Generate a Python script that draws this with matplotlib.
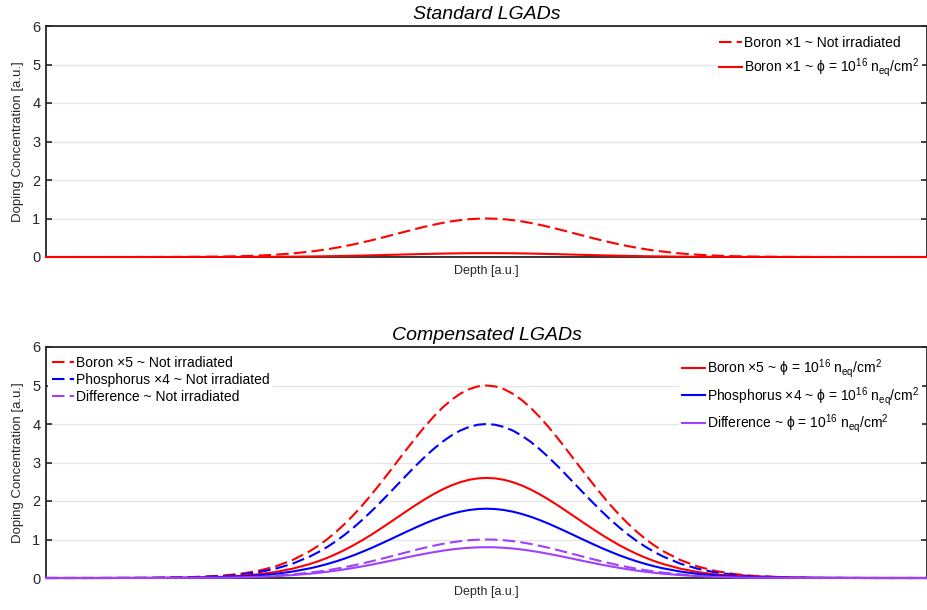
import matplotlib
matplotlib.use("Agg")
import matplotlib.pyplot as plt

plt.rcParams['font.family'] = ['Liberation Sans', 'DejaVu Sans']
plt.rcParams['mathtext.fontset'] = 'custom'
plt.rcParams['mathtext.rm'] = 'Liberation Sans'
plt.rcParams['mathtext.it'] = 'Liberation Sans:italic'
plt.rcParams['mathtext.bf'] = 'Liberation Sans:bold'

# ---------------- data ----------------
depth = [0, 6, 12, 16, 20, 22, 24, 26, 28, 30, 31, 32, 33, 34, 35, 36, 37, 38, 39, 40,
         41, 42, 43, 44, 45, 46, 47, 48, 49, 50, 51, 52, 53, 54, 55, 56, 57, 58, 59, 60,
         61, 62, 63, 64, 65, 66, 67, 68, 69, 70, 72, 74, 76, 78, 80, 84, 88, 94, 100]

# Standard LGADs
std_boron_noirr = [0, 0, 0.001, 0.004, 0.012, 0.021, 0.036, 0.059, 0.093, 0.141, 0.170, 0.204,
                   0.243, 0.285, 0.332, 0.383, 0.437, 0.494, 0.553, 0.613, 0.672, 0.731, 0.787,
                   0.838, 0.885, 0.925, 0.957, 0.981, 0.995, 1.000, 0.995, 0.981, 0.957, 0.925,
                   0.885, 0.838, 0.787, 0.731, 0.672, 0.613, 0.553, 0.494, 0.437, 0.383, 0.332,
                   0.285, 0.243, 0.204, 0.170, 0.141, 0.093, 0.059, 0.036, 0.021, 0.012, 0.004,
                   0.001, 0, 0]
std_boron_irr = [0, 0, 0, 0.0004, 0.0012, 0.0021, 0.0036, 0.0059, 0.0093, 0.0141, 0.0170,
                 0.0204, 0.0243, 0.0285, 0.0332, 0.0383, 0.0437, 0.0494, 0.0553, 0.0613, 0.0672,
                 0.0731, 0.0787, 0.0838, 0.0885, 0.0925, 0.0957, 0.0981, 0.0995, 0.1000, 0.0995,
                 0.0981, 0.0957, 0.0925, 0.0885, 0.0838, 0.0787, 0.0731, 0.0672, 0.0613, 0.0553,
                 0.0494, 0.0437, 0.0383, 0.0332, 0.0285, 0.0243, 0.0204, 0.0170, 0.0141, 0.0093,
                 0.0059, 0.0036, 0.0021, 0.0012, 0.0004, 0, 0, 0]

# Compensated LGADs
cmp_boron_noirr = [0, 0.0005, 0.004, 0.018, 0.060, 0.107, 0.182, 0.297, 0.467, 0.704, 0.852,
                   1.022, 1.213, 1.426, 1.660, 1.913, 2.184, 2.469, 2.763, 3.063, 3.362, 3.654,
                   3.933, 4.191, 4.424, 4.623, 4.785, 4.903, 4.976, 5.000, 4.976, 4.903, 4.785,
                   4.623, 4.424, 4.191, 3.933, 3.654, 3.362, 3.063, 2.763, 2.469, 2.184, 1.913,
                   1.660, 1.426, 1.213, 1.022, 0.852, 0.704, 0.467, 0.297, 0.182, 0.107, 0.060,
                   0.018, 0.004, 0.0005, 0]
cmp_phos_noirr = [0, 0.0004, 0.003, 0.014, 0.048, 0.086, 0.146, 0.238, 0.373, 0.563, 0.682,
                  0.817, 0.970, 1.140, 1.328, 1.530, 1.747, 1.975, 2.210, 2.450, 2.689, 2.923,
                  3.146, 3.353, 3.539, 3.698, 3.828, 3.922, 3.980, 4.000, 3.980, 3.922, 3.828,
                  3.698, 3.539, 3.353, 3.146, 2.923, 2.689, 2.450, 2.210, 1.975, 1.747, 1.530,
                  1.328, 1.140, 0.970, 0.817, 0.682, 0.563, 0.373, 0.238, 0.146, 0.086, 0.048,
                  0.014, 0.003, 0.0004, 0]
cmp_diff_noirr = [0, 0, 0.001, 0.004, 0.012, 0.021, 0.036, 0.059, 0.093, 0.141, 0.170, 0.204,
                  0.243, 0.285, 0.332, 0.383, 0.437, 0.494, 0.553, 0.613, 0.672, 0.731, 0.787,
                  0.838, 0.885, 0.925, 0.957, 0.981, 0.995, 1.000, 0.995, 0.981, 0.957, 0.925,
                  0.885, 0.838, 0.787, 0.731, 0.672, 0.613, 0.553, 0.494, 0.437, 0.383, 0.332,
                  0.285, 0.243, 0.204, 0.170, 0.141, 0.093, 0.059, 0.036, 0.021, 0.012, 0.004,
                  0.001, 0, 0]
cmp_boron_irr = [0, 0, 0.002, 0.009, 0.031, 0.056, 0.095, 0.154, 0.243, 0.366, 0.443, 0.531,
                 0.631, 0.741, 0.863, 0.995, 1.135, 1.284, 1.437, 1.593, 1.748, 1.900, 2.045,
                 2.179, 2.300, 2.404, 2.488, 2.550, 2.587, 2.600, 2.587, 2.550, 2.488, 2.404,
                 2.300, 2.179, 2.045, 1.900, 1.748, 1.593, 1.437, 1.284, 1.135, 0.995, 0.863,
                 0.741, 0.631, 0.531, 0.443, 0.366, 0.243, 0.154, 0.095, 0.056, 0.031, 0.009,
                 0.002, 0, 0]
cmp_phos_irr = [0, 0, 0.002, 0.006, 0.022, 0.039, 0.066, 0.107, 0.168, 0.253, 0.307, 0.368,
                0.437, 0.513, 0.597, 0.689, 0.786, 0.889, 0.995, 1.103, 1.210, 1.315, 1.416,
                1.509, 1.592, 1.664, 1.722, 1.765, 1.791, 1.800, 1.791, 1.765, 1.722, 1.664,
                1.592, 1.509, 1.416, 1.315, 1.210, 1.103, 0.995, 0.889, 0.786, 0.689, 0.597,
                0.513, 0.437, 0.368, 0.307, 0.253, 0.168, 0.107, 0.066, 0.039, 0.022, 0.006,
                0.002, 0, 0]
cmp_diff_irr = [0, 0, 0.001, 0.003, 0.010, 0.017, 0.029, 0.048, 0.075, 0.113, 0.136, 0.163,
                0.194, 0.228, 0.266, 0.306, 0.349, 0.395, 0.442, 0.490, 0.538, 0.585, 0.629,
                0.671, 0.708, 0.740, 0.766, 0.784, 0.796, 0.800, 0.796, 0.784, 0.766, 0.740,
                0.708, 0.671, 0.629, 0.585, 0.538, 0.490, 0.442, 0.395, 0.349, 0.306, 0.266,
                0.228, 0.194, 0.163, 0.136, 0.113, 0.075, 0.048, 0.029, 0.017, 0.010, 0.003,
                0.001, 0, 0]

yticks = [0, 1, 2, 3, 4, 5, 6]
titles = ["Standard LGADs", "Compensated LGADs"]
xlabel = "Depth [a.u.]"
ylabel = "Doping Concentration [a.u.]"
irr = "ϕ = 10$^{16}$ n$_{\\mathrm{eq}}$/cm$^{2}$"

RED = '#ff0000'
BLUE = '#0000ff'
PURPLE = '#a040ff'
TXT = '#262626'

fig = plt.figure(figsize=(9.28, 6.10), dpi=100)
ax1 = fig.add_axes([46 / 928, 1 - 257 / 610, 881 / 928, 231 / 610])
ax2 = fig.add_axes([46 / 928, 1 - 578 / 610, 881 / 928, 231 / 610])

DASH = (6, 2.5)
LW = 1.5
LFS = 10


def style(ax, title):
    ax.set_xlim(depth[0], depth[-1])
    ax.set_ylim(0, 6)
    ax.set_yticks(yticks)
    ax.set_xticks([])
    ax.yaxis.grid(True, color='#e5e5e5', lw=0.9)
    ax.set_axisbelow(True)
    ax.tick_params(axis='y', direction='in', length=4, width=1.2, colors=TXT,
                   labelsize=10.5, right=True, left=True, pad=4)
    for sp in ax.spines.values():
        sp.set_color(TXT)
        sp.set_linewidth(1.3)
        sp.set_zorder(1.5)
    ax.set_title(title, style='italic', fontsize=14, color='black', pad=5)
    ax.set_xlabel(xlabel, fontsize=9, color=TXT, labelpad=6)
    ax.set_ylabel(ylabel, fontsize=9.5, color=TXT, labelpad=6)


style(ax1, titles[0])
style(ax2, titles[1])


def make_legend(ax, handles, loc, anchor, spacing):
    lg = ax.legend(handles=handles, loc=loc, bbox_to_anchor=anchor,
                   fontsize=LFS, frameon=True, facecolor='white', edgecolor='none',
                   framealpha=1, handlelength=1.6, handletextpad=0.15,
                   labelspacing=spacing, borderaxespad=0.15, borderpad=0.25)
    lg.set_zorder(5)
    for t in lg.get_texts():
        t.set_color('black')
    return lg


# Top panel
l1, = ax1.plot(depth, std_boron_noirr, color=RED, lw=LW, ls='--', dashes=DASH,
               clip_on=False, zorder=3, label="Boron ×1 ~ Not irradiated")
l2, = ax1.plot(depth, std_boron_irr, color=RED, lw=LW, clip_on=False, zorder=3,
               label="Boron ×1 ~ " + irr)
make_legend(ax1, [l1, l2], 'upper right', (0.997, 0.98), 0.42)

# Bottom panel
d1, = ax2.plot(depth, cmp_boron_noirr, color=RED, lw=LW, ls='--', dashes=DASH,
               clip_on=False, zorder=3, label="Boron ×5 ~ Not irradiated")
d2, = ax2.plot(depth, cmp_phos_noirr, color=BLUE, lw=LW, ls='--', dashes=DASH,
               clip_on=False, zorder=3, label="Phosphorus ×4 ~ Not irradiated")
d3, = ax2.plot(depth, cmp_diff_noirr, color=PURPLE, lw=LW, ls='--', dashes=DASH,
               clip_on=False, zorder=3, label="Difference ~ Not irradiated")
s1, = ax2.plot(depth, cmp_boron_irr, color=RED, lw=LW, clip_on=False, zorder=3,
               label="Boron ×5 ~ " + irr)
s2, = ax2.plot(depth, cmp_phos_irr, color=BLUE, lw=LW, clip_on=False, zorder=3,
               label="Phosphorus ×4 ~ " + irr)
s3, = ax2.plot(depth, cmp_diff_irr, color=PURPLE, lw=LW, clip_on=False, zorder=3,
               label="Difference ~ " + irr)

legA = make_legend(ax2, [d1, d2, d3], 'upper left', (0.0, 0.985), 0.2)
ax2.add_artist(legA)
make_legend(ax2, [s1, s2, s3], 'upper right', (0.997, 0.98), 0.33)

fig.savefig("out.png", dpi=100)
